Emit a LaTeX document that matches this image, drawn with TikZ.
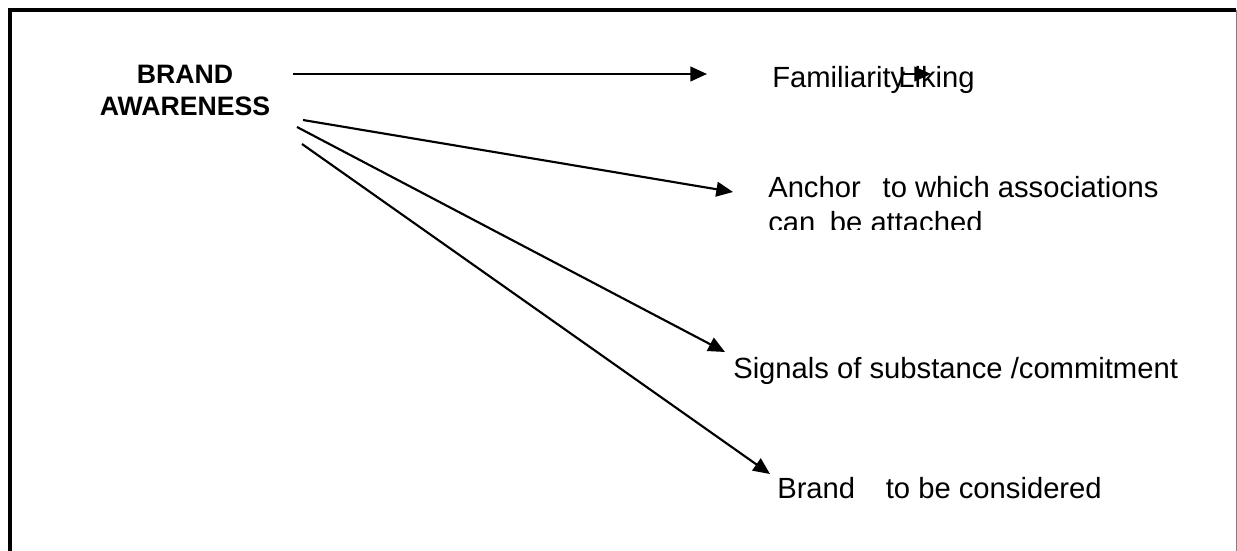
\documentclass[tikz,border=0pt]{standalone}
\usepackage{fontspec}
\setmainfont{Liberation Sans}
\usetikzlibrary{arrows.meta}
\begin{document}
\begin{tikzpicture}[x=0.75pt,y=-0.75pt,
  lbl/.style={inner sep=0pt, anchor=base west, font=\fontsize{21.9pt}{25pt}\selectfont},
  head/.style={inner sep=0pt, anchor=base, font=\bfseries\fontsize{20pt}{24pt}\selectfont},
  conn/.style={line width=1.6pt, -{Triangle[length=12.5pt,width=11pt]}},
  frame/.style={line width=2.4pt},
]
\useasboundingbox (0,0) rectangle (1237,550);
% frame (bottom edge falls outside the picture)
\draw[frame] (10,553) -- (10,10) -- (1236,10);
\draw[gray, line width=0.75pt] (1236,10) -- (1236,553);

% source
\node[head] (ba1) at (185,83) {BRAND};
\node[head] (ba2) at (185,115) {AWARENESS};

% targets
\node[lbl] (fam) at (772,87) {Familiarity};
\node[lbl] (lik) at (898,87) {Liking};
\node[lbl] (anc) at (768,197) {Anchor\hspace{0.75em}to which associations};
\begin{scope}
  \clip (700,205) rectangle (1200,229);
  \node[lbl] (anc2) at (768,232) {can\hspace{0.5em}be attached};
\end{scope}
\node[lbl] (sig) at (733,378) {Signals of substance /commitment};
\node[lbl] (brd) at (777,498) {Brand\hspace{1.05em}to be considered};

% connector end points
\coordinate (s1) at (293,74);
\coordinate (e1) at (707,74);
\coordinate (s2) at (303,120);
\coordinate (e2) at (733,192);
\coordinate (s3) at (297,127);
\coordinate (e3) at (725,352);
\coordinate (s4) at (302,144);
\coordinate (e4) at (770,474);
\coordinate (f1) at (903,74);
\coordinate (f2) at (931,74);

\draw[conn] (s1) -- (e1);
\draw[conn] (s2) -- (e2);
\draw[conn] (s3) -- (e3);
\draw[conn] (s4) -- (e4);
\draw[conn] (f1) -- (f2);
\end{tikzpicture}
\end{document}
